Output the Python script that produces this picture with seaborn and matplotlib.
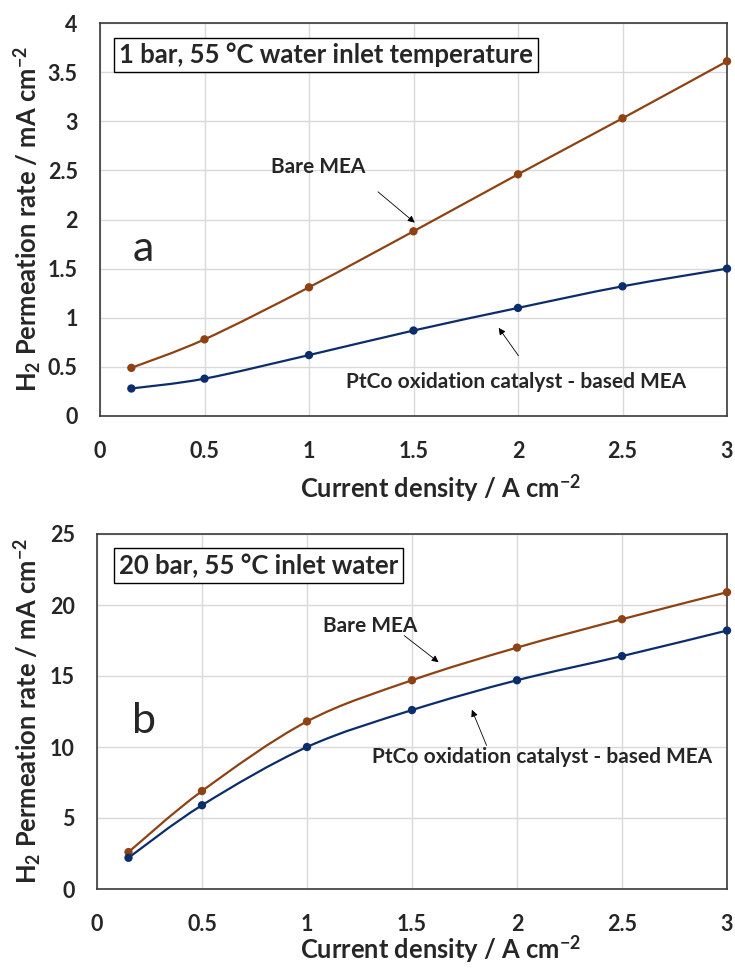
import numpy as np
import pandas as pd
import seaborn as sns
import matplotlib
matplotlib.use("Agg")
import matplotlib.pyplot as plt
from matplotlib.path import Path
from matplotlib.patches import PathPatch

# ---------------- data ----------------
current_density = [0.15, 0.5, 1.0, 1.5, 2.0, 2.5, 3.0]
bare_1bar = [0.49, 0.78, 1.31, 1.88, 2.46, 3.03, 3.61]
ptco_1bar = [0.28, 0.38, 0.62, 0.87, 1.10, 1.32, 1.50]
bare_20bar = [2.6, 6.9, 11.8, 14.7, 17.0, 19.0, 20.9]
ptco_20bar = [2.2, 5.9, 10.0, 12.6, 14.7, 16.4, 18.2]

x_ticks = [0, 0.5, 1, 1.5, 2, 2.5, 3]
x_tick_labels = ["0", "0.5", "1", "1.5", "2", "2.5", "3"]
y_ticks_a = [0, 0.5, 1, 1.5, 2, 2.5, 3, 3.5, 4]
y_tick_labels_a = ["0", "0.5", "1", "1.5", "2", "2.5", "3", "3.5", "4"]
y_ticks_b = [0, 5, 10, 15, 20, 25]
y_tick_labels_b = ["0", "5", "10", "15", "20", "25"]

title_a = "1 bar, 55 °C water inlet temperature"
title_b = "20 bar, 55 °C inlet water"
label_bare = "Bare MEA"
label_ptco = "PtCo oxidation catalyst - based MEA"
xlabel = r"Current density / A cm$^{\mathbf{-2}}$"
ylabel = r"H$_{\mathbf{2}}$ Permeation rate / mA cm$^{\mathbf{-2}}$"

BROWN = "#8E4213"
NAVY = "#0C2D6B"

sns.set_theme(style="white")
plt.rcParams["font.family"] = ["Lato", "DejaVu Sans"]
plt.rcParams["mathtext.fontset"] = "custom"
plt.rcParams["mathtext.rm"] = "Lato"
plt.rcParams["mathtext.bf"] = "Lato:bold"
plt.rcParams["mathtext.it"] = "Lato:italic"

fig = plt.figure(figsize=(7.35, 9.68), dpi=100)
W, H = 735, 968

TICK_FS = 15.5
LABEL_FS = 18.4
TITLE_FS = 18.5
ANN_FS = 15


def add_ax(l, t, r, b):
    return fig.add_axes([l / W, 1 - b / H, (r - l) / W, (b - t) / H])


def smooth_path(ax, xs, ys, color):
    xs = np.asarray(xs, float)
    ys = np.asarray(ys, float)
    pts = np.column_stack([xs, ys])
    n = len(pts)
    verts = [pts[0]]
    codes = [Path.MOVETO]
    for i in range(n - 1):
        p0 = pts[i - 1] if i > 0 else pts[i]
        p1 = pts[i]
        p2 = pts[i + 1]
        p3 = pts[i + 2] if i + 2 < n else pts[i + 1]
        c1 = p1 + (p2 - p0) / 6.0
        c2 = p2 - (p3 - p1) / 6.0
        verts += [c1, c2, p2]
        codes += [Path.CURVE4] * 3
    patch = PathPatch(Path(verts, codes), facecolor="none", edgecolor=color,
                      lw=1.6, zorder=3)
    ax.add_patch(patch)


def style_axes(ax, yticks, ylabels, ymax):
    ax.set_xlim(0, 3)
    ax.set_ylim(0, ymax)
    ax.set_xticks(x_ticks)
    ax.set_xticklabels(x_tick_labels, fontsize=TICK_FS, fontweight="bold")
    ax.set_yticks(yticks)
    ax.set_yticklabels(ylabels, fontsize=TICK_FS, fontweight="bold")
    ax.grid(True, color="#D9D9D9", lw=1.0)
    ax.set_axisbelow(True)
    for s in ax.spines.values():
        s.set_color("#3A3A3A")
        s.set_linewidth(1.2)
    ax.tick_params(axis="x", length=0, pad=18)
    ax.tick_params(axis="y", length=0, pad=16)


def draw_panel(ax, bare, ptco):
    df = pd.DataFrame({"x": current_density * 2,
                       "y": list(bare) + list(ptco),
                       "s": [label_bare] * len(bare) + [label_ptco] * len(ptco)})
    smooth_path(ax, current_density, bare, BROWN)
    smooth_path(ax, current_density, ptco, NAVY)
    sns.scatterplot(data=df, x="x", y="y", hue="s",
                    palette={label_bare: BROWN, label_ptco: NAVY},
                    s=36, edgecolor="none", legend=False, ax=ax, zorder=4,
                    clip_on=False)
    ax.set_xlabel("")
    ax.set_ylabel("")


ARROW = dict(arrowstyle="-|>", color="black", lw=0.6, mutation_scale=10)

# ---------------- panel a ----------------
ax1 = add_ax(100, 23, 727, 416)
draw_panel(ax1, bare_1bar, ptco_1bar)
style_axes(ax1, y_ticks_a, y_tick_labels_a, 4)
ax1.text(0.03, 0.95, title_a, transform=ax1.transAxes, ha="left", va="top",
         fontsize=TITLE_FS, fontweight="bold",
         bbox=dict(boxstyle="square,pad=0.2", fc="white", ec="black", lw=1.0))
ax1.text(0.205, 1.70, "a", fontsize=31, ha="center", va="center")
ax1.annotate("", xy=(1.516, 1.95), xytext=(1.32, 2.30), arrowprops=ARROW)
ax1.text(1.045, 2.53, label_bare, fontsize=ANN_FS, fontweight="bold",
         ha="center", va="center")
ax1.annotate("", xy=(1.90, 0.92), xytext=(2.01, 0.59), arrowprops=ARROW)
ax1.text(1.99, 0.35, label_ptco, fontsize=ANN_FS, fontweight="bold",
         ha="center", va="center")

# ---------------- panel b ----------------
ax2 = add_ax(97, 534, 727, 889)
draw_panel(ax2, bare_20bar, ptco_20bar)
style_axes(ax2, y_ticks_b, y_tick_labels_b, 25)
ax2.text(0.035, 0.945, title_b, transform=ax2.transAxes, ha="left", va="top",
         fontsize=TITLE_FS, fontweight="bold",
         bbox=dict(boxstyle="square,pad=0.2", fc="white", ec="black", lw=1.0))
ax2.text(0.225, 11.8, "b", fontsize=31, ha="center", va="center")
ax2.annotate("", xy=(1.637, 15.85), xytext=(1.453, 17.96), arrowprops=ARROW)
ax2.text(1.30, 18.5, label_bare, fontsize=ANN_FS, fontweight="bold",
         ha="center", va="center")
ax2.annotate("", xy=(1.78, 12.8), xytext=(1.86, 9.93), arrowprops=ARROW)
ax2.text(2.12, 9.3, label_ptco, fontsize=ANN_FS, fontweight="bold",
         ha="center", va="center")

# axis labels
fig.text(440 / W, 1 - 488 / H, xlabel, fontsize=LABEL_FS, fontweight="bold",
         ha="center", va="center")
fig.text(440 / W, 1 - 949 / H, xlabel, fontsize=LABEL_FS, fontweight="bold",
         ha="center", va="center")
fig.text(27 / W, 1 - 219 / H, ylabel, fontsize=LABEL_FS, fontweight="bold",
         ha="center", va="center", rotation=90)
fig.text(27 / W, 1 - 711 / H, ylabel, fontsize=LABEL_FS, fontweight="bold",
         ha="center", va="center", rotation=90)

fig.savefig("out.png", dpi=100)
